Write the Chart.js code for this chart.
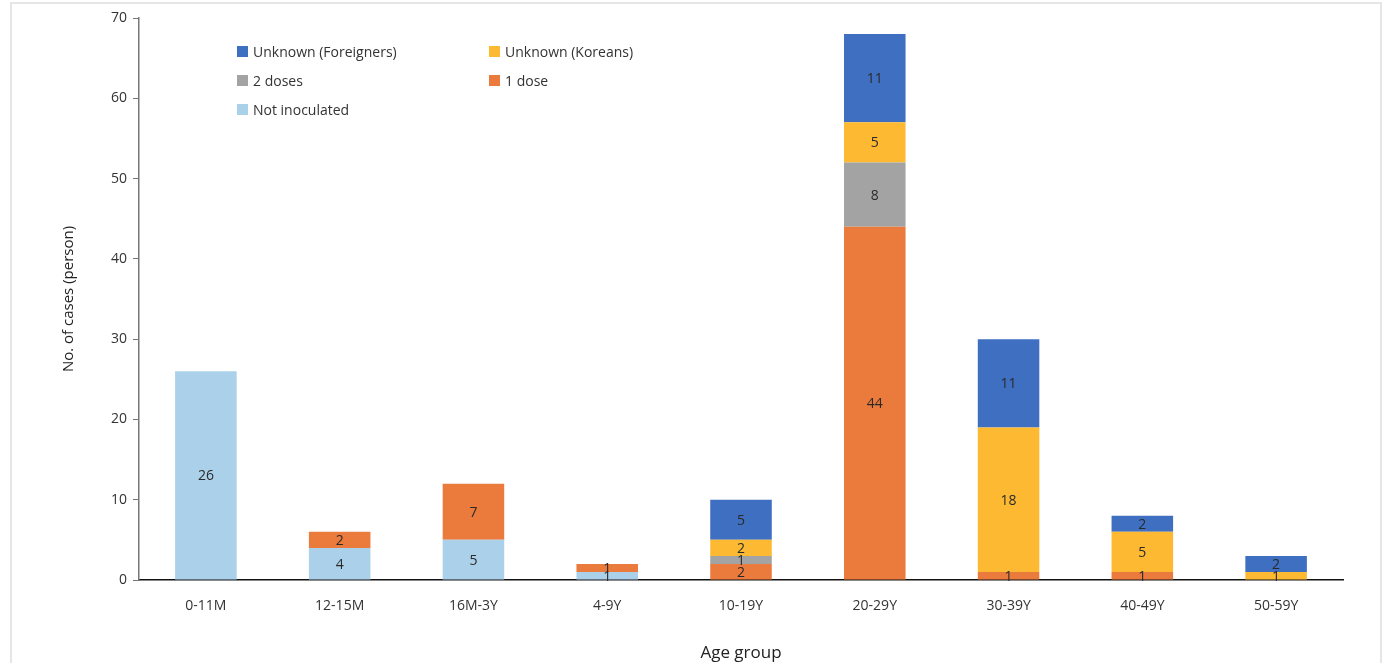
<!DOCTYPE html>
<html>
<head>
<meta charset="utf-8">
<script src="https://cdn.jsdelivr.net/npm/chart.js@4.4.1/dist/chart.umd.min.js"></script>
<style>
    html, body { margin: 0; padding: 0; background: #fff; }
    .wrap { position: relative; width: 1391px; height: 663px; }
    .frame { position: absolute; left: 10px; top: 2px; width: 1372px; height: 670px; border: 2px solid #e6e6e6; box-sizing: border-box; pointer-events: none; }
    canvas { position: absolute; left: 0; top: 0; }
    .legend { position: absolute; left: 237px; top: 42px; display: grid; grid-template-columns: 252px 200px; row-gap: 10px; font-family: "Open Sans", sans-serif; font-size: 14px; color: #333; }
    .legend div { display: flex; align-items: center; height: 19px; }
    .legend span { display: inline-block; width: 11px; height: 11px; margin-right: 5px; }
</style>
</head>
<body>
<div class="wrap">
    <canvas id="caseChart" width="1391" height="663"></canvas>
    <div class="legend" id="legend"></div>
    <div class="frame"></div>
</div>
<script>
const ageGroups = ["0-11M", "12-15M", "16M-3Y", "4-9Y", "10-19Y", "20-29Y", "30-39Y", "40-49Y", "50-59Y"];

// stack order, bottom to top
const notInoculated = [26, 4, 5, 1, 0, 0, 0, 0, 0];
const oneDose       = [0, 2, 7, 1, 2, 44, 1, 1, 0];
const twoDoses      = [0, 0, 0, 0, 1, 8, 0, 0, 0];
const unknownKorean = [0, 0, 0, 0, 2, 5, 18, 5, 1];
const unknownForeign = [0, 0, 0, 0, 5, 11, 11, 2, 2];

const yTicks = [0, 10, 20, 30, 40, 50, 60, 70];

const series = [
    { label: "Not inoculated", data: notInoculated, color: "#abd0ea" },
    { label: "1 dose", data: oneDose, color: "#eb7b3c" },
    { label: "2 doses", data: twoDoses, color: "#a3a3a3" },
    { label: "Unknown (Koreans)", data: unknownKorean, color: "#fdb931" },
    { label: "Unknown (Foreigners)", data: unknownForeign, color: "#3f6fc0" }
];

/* value labels in the middle of each segment */
const barLabels = {
    id: "barLabels",
    afterDatasetsDraw(chart) {
        const c = chart.ctx;
        c.save();
        c.font = "14px 'Open Sans', sans-serif";
        c.fillStyle = "#2a2a2a";
        c.textAlign = "center";
        c.textBaseline = "middle";
        chart.data.datasets.forEach((ds, i) => {
            chart.getDatasetMeta(i).data.forEach((bar, j) => {
                const v = ds.data[j];
                if (!v) return;
                c.fillText(v, bar.x, (bar.y + bar.base) / 2 + 1);
            });
        });
        c.restore();
    }
};

const ctx = document.getElementById("caseChart").getContext("2d");

new Chart(ctx, {
    type: "bar",
    data: {
        labels: ageGroups,
        datasets: series.map(s => ({
            label: s.label,
            data: s.data,
            backgroundColor: s.color,
            borderWidth: 0,
            barPercentage: 0.46,
            categoryPercentage: 1
        }))
    },
    options: {
        responsive: false,
        animation: false,
        layout: { padding: { top: 18, right: 48, left: 0, bottom: 0 } },
        plugins: {
            legend: { display: false },
            tooltip: { enabled: false }
        },
        scales: {
            x: {
                stacked: true,
                grid: { display: false },
                border: { color: "#111", width: 1.5 },
                ticks: {
                    color: "#333",
                    padding: 10,
                    font: { family: "'Open Sans', sans-serif", size: 14 }
                },
                title: {
                    display: true,
                    text: "Age group",
                    color: "#222",
                    padding: { top: 28, bottom: 0 },
                    font: { family: "'Open Sans', sans-serif", size: 17 }
                },
                afterFit(scale) { scale.height = 83; }
            },
            y: {
                stacked: true,
                min: 0,
                max: 70,
                afterBuildTicks(scale) { scale.ticks = yTicks.map(v => ({ value: v })); },
                grid: { display: true, drawOnChartArea: false, tickLength: 6, color: "#777" },
                border: { color: "#777", width: 1.5 },
                ticks: {
                    color: "#333",
                    padding: 6,
                    font: { family: "'Open Sans', sans-serif", size: 14 }
                },
                title: {
                    display: true,
                    text: "No. of cases (person)",
                    color: "#222",
                    padding: { top: 60, bottom: 14 },
                    font: { family: "'Open Sans', sans-serif", size: 15 }
                },
                afterFit(scale) { scale.width = 139; }
            }
        }
    },
    plugins: [barLabels]
});

/* legend, two columns, top-down reverse of stack */
const legendOrder = [4, 3, 2, 1, 0];
document.getElementById("legend").innerHTML = legendOrder
    .map(i => `<div><span style="background:${series[i].color}"></span>${series[i].label}</div>`)
    .join("");
</script>
</body>
</html>
